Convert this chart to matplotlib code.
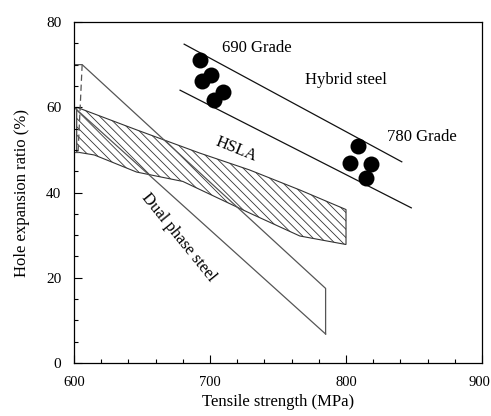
"""Hole expansion ratio vs tensile strength for hybrid, HSLA and dual phase steels."""

import matplotlib

matplotlib.use("Agg")
import matplotlib.pyplot as plt
from matplotlib.ticker import FuncFormatter, MultipleLocator

# HSLA band (hatched)
hsla_top_x = [602, 646, 692, 729, 766, 800]
hsla_top_y = [60.0, 54.7, 49.3, 45.3, 40.6, 36.0]
hsla_bot_x = [602, 615, 646, 680, 729, 766, 800]
hsla_bot_y = [49.5, 48.8, 44.8, 42.6, 35.2, 29.8, 27.8]

# Dual phase steel band
dp_upper_x = [600, 606, 785]
dp_upper_y = [70.0, 70.0, 17.5]
dp_lower_x = [600, 785]
dp_lower_y = [60.0, 6.8]
dp_dash_x = [606, 603]
dp_dash_y = [70.0, 49.5]

# Hybrid steel band limits
hyb_upper_x = [681, 841]
hyb_upper_y = [74.8, 47.2]
hyb_lower_x = [678, 848]
hyb_lower_y = [64.0, 36.4]

# Hybrid steel measurements
g690_x = [693.0, 701.1, 693.8, 709.2, 702.6]
g690_y = [71.1, 67.6, 66.2, 63.6, 61.7]
g780_x = [808.8, 802.9, 818.3, 814.6]
g780_y = [50.9, 46.9, 46.7, 43.4]

X_MAX = 900

plt.rcParams["font.family"] = ["Liberation Serif", "DejaVu Serif"]
plt.rcParams["hatch.linewidth"] = 0.6

fig = plt.figure(figsize=(4.91, 4.16), dpi=100)
ax = fig.add_axes([0.1507, 0.1274, 0.8310, 0.8197])

line = "#333333"
gray = "#555555"

# HSLA hatched region
poly_x = hsla_top_x + hsla_bot_x[::-1]
poly_y = hsla_top_y + hsla_bot_y[::-1]
ax.fill(poly_x, poly_y, facecolor="none", edgecolor=line, hatch="\\\\\\\\", lw=0.8)

# dual phase steel
ax.plot(dp_upper_x + [dp_upper_x[-1]], dp_upper_y + [dp_lower_y[-1]], color=gray, lw=0.9)
ax.plot(dp_lower_x, dp_lower_y, color=gray, lw=0.9)
ax.plot(dp_dash_x, dp_dash_y, color=gray, lw=0.9, ls=(0, (5, 3)))
ax.plot([600, 603], [49.5, 49.5], color=gray, lw=0.9)

# hybrid steel band
ax.plot(hyb_upper_x, hyb_upper_y, color="#111111", lw=0.9)
ax.plot(hyb_lower_x, hyb_lower_y, color="#111111", lw=0.9)
ax.plot(g690_x, g690_y, "o", color="black", ms=11.5, mew=0)
ax.plot(g780_x, g780_y, "o", color="black", ms=11.5, mew=0)

ax.text(709, 73.9, "690 Grade", fontsize=12, va="center", ha="left")
ax.text(800, 66.4, "Hybrid steel", fontsize=12, va="center", ha="center")
ax.text(830, 53.0, "780 Grade", fontsize=12, va="center", ha="left")
ax.text(719, 50.0, "HSLA", fontsize=12, va="center", ha="center", rotation=-22)
ax.text(677, 29.5, "Dual phase steel", fontsize=12, va="center", ha="center",
        rotation=-51)

ax.set_xlim(600, X_MAX)
ax.set_ylim(0, 80)
ax.xaxis.set_major_locator(MultipleLocator(100))
ax.xaxis.set_minor_locator(MultipleLocator(20))
ax.yaxis.set_major_locator(MultipleLocator(20))
ax.yaxis.set_minor_locator(MultipleLocator(5))
# last x label is drawn separately so it stays inside the figure
ax.xaxis.set_major_formatter(FuncFormatter(lambda v, p: "" if v >= X_MAX else f"{v:.0f}"))
ax.tick_params(which="both", direction="in", top=False, right=False,
               labelsize=11, pad=9, width=0.8)
ax.tick_params(axis="x", labelsize=10.5)
ax.tick_params(which="major", length=6)
ax.tick_params(which="minor", length=3)
for s in ax.spines.values():
    s.set_linewidth(0.9)

ax.annotate(f"{X_MAX}", xy=(X_MAX, 0), xycoords=("data", "axes fraction"),
            xytext=(6, -9), textcoords="offset points", ha="right", va="top",
            fontsize=10.5)

ax.set_xlabel("Tensile strength (MPa)", fontsize=12, labelpad=4)
ax.set_ylabel("Hole expansion ratio (%)", fontsize=12, labelpad=12)

fig.savefig("out.png", dpi=100)
